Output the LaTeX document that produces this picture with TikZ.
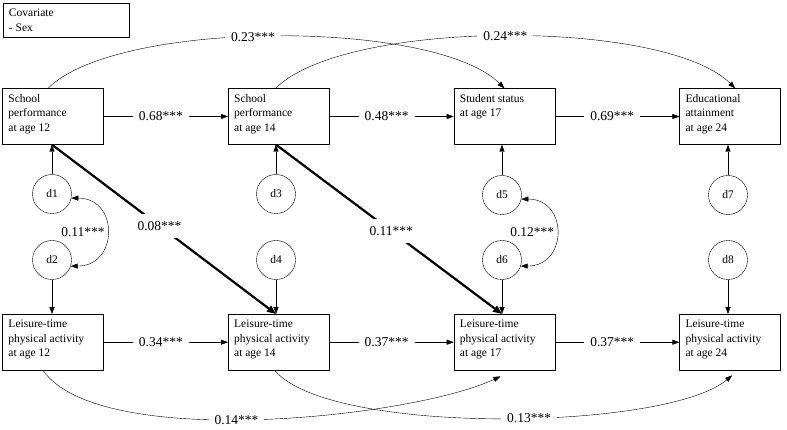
\documentclass[tikz,border=0pt]{standalone}
\usepackage{fontspec}
\setmainfont{Liberation Serif}
\usetikzlibrary{arrows.meta}
\newcommand{\vartext}[1]{\parbox[c][44pt][t]{89pt}{#1}}

\begin{document}
\begin{tikzpicture}[x=1pt,y=1pt,>={Triangle[length=7pt,width=5pt]},node distance=225.7pt,
				thin,var node/.style = {rectangle,draw,inner sep=6pt,font=\fontsize{11.5}{14.5}\selectfont},
				err node/.style = {circle,draw,inner sep=0pt,minimum size=39pt,font=\fontsize{11.5}{14}\selectfont},
				coef/.style = {fill=white,inner xsep=6pt,inner ysep=7pt,font=\fontsize{13.5}{16}\selectfont},
				cov coef/.style = {inner sep=2pt,font=\fontsize{13.5}{16}\selectfont}]
				
				\useasboundingbox (0,0) rectangle (787,430);
				
				\node[var node] at (66,410) (cov) {\parbox[c][22pt][t]{114pt}{Covariate\\- Sex}};
				
				% school row
				\node[var node] at (53,313.5) (sp12) {\vartext{School\\performance\\at age 12}};
				\node[var node] [right of = sp12] (sp14) {\vartext{School\\performance\\at age 14}};
				\node[var node] [right of = sp14] (ss17) {\vartext{Student status\\at age 17}};
				\node[var node] [right of = ss17] (ea24) {\vartext{Educational\\attainment\\at age 24}};
				
				% activity row
				\node[var node] [below of = sp12] (lt12) {\vartext{Leisure-time\\physical activity\\at age 12}};
				\node[var node] [right of = lt12] (lt14) {\vartext{Leisure-time\\physical activity\\at age 14}};
				\node[var node] [right of = lt14] (lt17) {\vartext{Leisure-time\\physical activity\\at age 17}};
				\node[var node] [right of = lt17] (lt24) {\vartext{Leisure-time\\physical activity\\at age 24}};
				
				% disturbances
				\node[err node] at (52,236) (d1) {d1};
				\node[err node] at (52,170) (d2) {d2};
				\node[err node] at (276,236) (d3) {d3};
				\node[err node] at (276,170) (d4) {d4};
				\node[err node] at (502,235) (d5) {d5};
				\node[err node] at (502,170) (d6) {d6};
				\node[err node] at (728,235) (d7) {d7};
				\node[err node] at (728,170) (d8) {d8};
				
				\draw[->] (d1) -- (d1 |- sp12.south);
				\draw[->] (d2) -- (d2 |- lt12.north);
				\draw[->] (d3) -- (d3 |- sp14.south);
				\draw[->] (d4) -- (d4 |- lt14.north);
				\draw[->] (d5) -- (d5 |- ss17.south);
				\draw[->] (d6) -- (d6 |- lt17.north);
				\draw[->] (d7) -- (d7 |- ea24.south);
				\draw[->] (d8) -- (d8 |- lt24.north);
				
				\draw[<->] (d1.-12) to[out=0,in=0,looseness=1.8] node[cov coef,left]{0.11***} (d2.-18);
				\draw[<->] (d5.-12) to[out=0,in=0,looseness=1.8] node[cov coef,left]{0.12***} (d6.-18);
				
				% stability paths
				\draw[->] (sp12) -- node[coef,pos=0.46]{0.68***} (sp14);
				\draw[->] (sp14) -- node[coef,pos=0.46]{0.48***} (ss17);
				\draw[->] (ss17) -- node[coef,pos=0.46]{0.69***} (ea24);
				\draw[->] (lt12) -- node[coef,pos=0.46]{0.34***} (lt14);
				\draw[->] (lt14) -- node[coef,pos=0.46]{0.37***} (lt17);
				\draw[->] (lt17) -- node[coef,pos=0.46]{0.37***} (lt24);
				
				% cross-lagged paths
				\draw[->,line width=2.2pt,>={Triangle[length=9pt,width=7pt]}] (d1 |- sp12.south) -- node[coef,pos=0.48]{0.08***} (d4 |- lt14.north);
				\draw[->,line width=2.2pt,>={Triangle[length=9pt,width=7pt]}] (d3 |- sp14.south) -- node[coef,pos=0.51]{0.11***} (d6 |- lt17.north);
				
				% lag-2 paths
				\draw[->] ([xshift=-5pt]sp12.north) to[out=45,in=135,looseness=0.55] node[coef,pos=0.46]{0.23***} (ss17.north);
				\draw[->] ([xshift=-3pt]sp14.north) to[out=45,in=135,looseness=0.55] node[coef,pos=0.5]{0.24***} ([xshift=5pt]ea24.north);
				\draw[->] ([xshift=-10pt]lt12.south) to[out=-55,in=-155,looseness=0.55] node[coef,pos=0.46]{0.14***} ([xshift=-4pt,yshift=-6pt]lt17.south);
				\draw[->] ([xshift=-4pt]lt14.south) to[out=-50,in=-140,looseness=0.48] node[coef,pos=0.55]{0.13***} ([xshift=2pt,yshift=-5pt]lt24.south);
				
				\end{tikzpicture}
\end{document}
